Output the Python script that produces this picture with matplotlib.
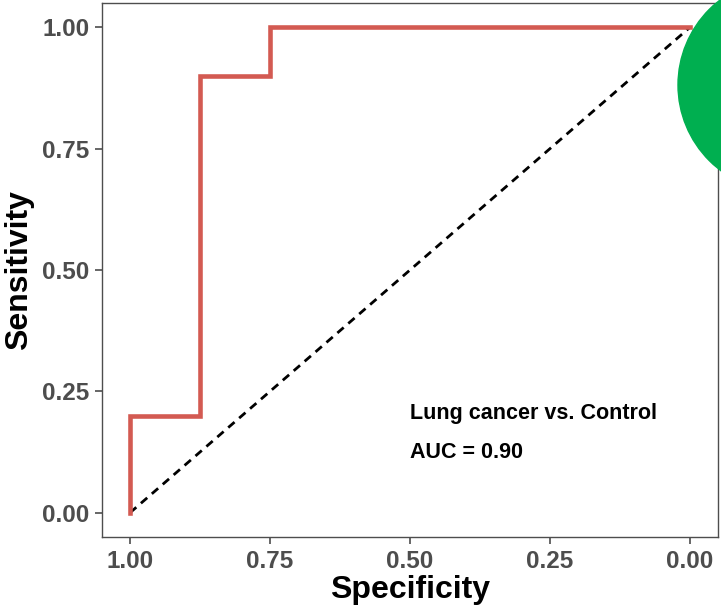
import matplotlib.pyplot as plt
from matplotlib.patches import Ellipse

plt.rcParams['font.family'] = ['Liberation Sans', 'DejaVu Sans']

# ROC steps (specificity, sensitivity)
specificity = [1.00, 1.00, 0.875, 0.875, 0.75, 0.75, 0.00]
sensitivity = [0.00, 0.20, 0.20, 0.90, 0.90, 1.00, 1.00]
ticks = [1.00, 0.75, 0.50, 0.25, 0.00]
tick_labels = ["1.00", "0.75", "0.50", "0.25", "0.00"]
label = "Lung cancer vs. Control"
auc = 0.90

W, H = 721, 608
fig = plt.figure(figsize=(W / 100, H / 100), dpi=100)
ax = fig.add_axes([102 / W, 1 - 537 / H, (718 - 102) / W, (537 - 3) / H])

ax.plot(specificity, sensitivity, color="#D35A52", lw=3.3, solid_joinstyle="miter", zorder=3)
ax.plot([1, 0], [0, 1], color="black", lw=2, ls=(0, (3, 2.2)), zorder=2)

ax.set_xlim(1.05, -0.05)
ax.set_ylim(-0.05, 1.05)
ax.set_xticks(ticks)
ax.set_xticklabels(tick_labels)
ax.set_yticks(ticks)
ax.set_yticklabels(tick_labels)
for lab in ax.get_xticklabels() + ax.get_yticklabels():
    lab.set_fontweight("bold")
ax.tick_params(colors="#4D4D4D", labelsize=17.5, length=5, width=1.2, direction="out", pad=4)
for s in ax.spines.values():
    s.set_color("#4D4D4D")
    s.set_linewidth(1.0)

ax.set_xlabel("Specificity", fontsize=23, fontweight="bold", labelpad=2)
ax.set_ylabel("Sensitivity", fontsize=23, fontweight="bold", labelpad=6)

ax.text(0.5, 0.205, label, fontsize=15.5, fontweight="bold", va="center", ha="left")
ax.text(0.5, 0.125, f"AUC = {auc:.2f}", fontsize=15.5, fontweight="bold", va="center", ha="left")

# green blob cut off at the right edge
fig.patches.append(Ellipse((785 / W, 1 - 85 / H), 214 / W, 214 / H,
                           transform=fig.transFigure, color="#00AF50", zorder=10))

fig.savefig("out.png", dpi=100)
